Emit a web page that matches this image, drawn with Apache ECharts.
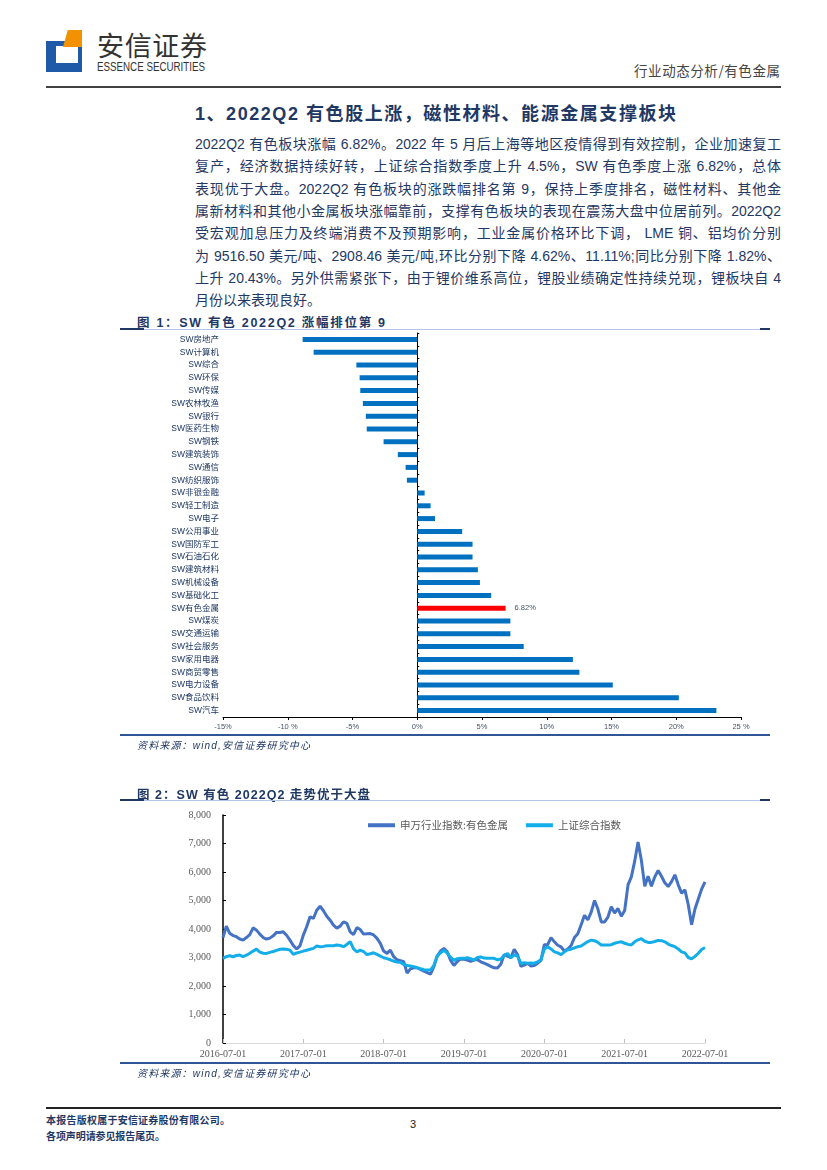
<!DOCTYPE html>
<html><head><meta charset="utf-8">
<script src="https://cdn.jsdelivr.net/npm/echarts@6/dist/echarts.min.js"></script>
<style>
html,body{margin:0;padding:0;background:#fff;}
#page{position:relative;width:827px;height:1170px;overflow:hidden;font-family:"Liberation Sans","Noto Sans CJK SC",sans-serif;}
.abs{position:absolute;white-space:nowrap;}
.para{position:absolute;left:195px;width:586px;font-size:14px;line-height:18px;color:#1F3864;text-align:justify;text-align-last:justify;white-space:nowrap;}
.cap{position:absolute;left:137px;font-size:12.5px;font-weight:bold;color:#1F3864;white-space:nowrap;}
.src{position:absolute;left:137px;font-size:10px;font-style:italic;color:#1F3864;white-space:nowrap;}
.hl{position:absolute;height:1px;background:#B4C6E7;}
</style>
</head><body>
<div id="page">
  <!-- logo -->
  <div class="abs" style="left:46px;top:41px;width:36px;height:31px;background:#1E5AA8;"></div>
  <div class="abs" style="left:56px;top:46px;width:22px;height:17px;background:#fff;"></div>
  <div class="abs" style="left:63px;top:30px;width:19px;height:17px;background:#F39200;clip-path:polygon(25% 0,100% 0,100% 100%,0 100%);"></div>
  <div id="hname" class="abs" style="left:97px;top:27px;font-size:27px;color:#333;font-family:'Noto Sans CJK SC';line-height:36px;">安信证券</div>
  <div id="hen" class="abs" style="left:97px;top:60px;font-size:12px;color:#333;font-family:'Liberation Sans';line-height:14px;transform-origin:0 0;">ESSENCE SECURITIES</div>
  <div id="hright" class="abs" style="left:634px;top:61px;font-size:13.5px;color:#444;font-family:'Noto Sans CJK SC';line-height:18px;">行业动态分析/有色金属</div>
  <div class="abs" style="left:46px;top:86px;width:735px;height:2px;background:#404040;"></div>

  <div id="sect" class="abs" style="left:195px;top:102px;font-size:18px;font-weight:bold;color:#1F3864;line-height:24px;">1、2022Q2 有色股上涨，磁性材料、能源金属支撑板块</div>

  <div class="para" style="top:135px;">2022Q2 有色板块涨幅 6.82%。2022 年 5 月后上海等地区疫情得到有效控制，企业加速复工</div>
  <div class="para" style="top:157.3px;">复产，经济数据持续好转，上证综合指数季度上升 4.5%，SW 有色季度上涨 6.82%，总体</div>
  <div class="para" style="top:179.6px;">表现优于大盘。2022Q2 有色板块的涨跌幅排名第 9，保持上季度排名，磁性材料、其他金</div>
  <div class="para" style="top:201.9px;">属新材料和其他小金属板块涨幅靠前，支撑有色板块的表现在震荡大盘中位居前列。2022Q2</div>
  <div class="para" style="top:224.2px;">受宏观加息压力及终端消费不及预期影响，工业金属价格环比下调， LME 铜、铝均价分别</div>
  <div class="para" style="top:246.5px;">为 9516.50 美元/吨、2908.46 美元/吨,环比分别下降 4.62%、11.11%;同比分别下降 1.82%、</div>
  <div class="para" style="top:268.8px;">上升 20.43%。另外供需紧张下，由于锂价维系高位，锂股业绩确定性持续兑现，锂板块自 4</div>
  <div class="para" style="top:291.1px;text-align-last:left;">月份以来表现良好。</div>

  <div id="cap1" class="cap" style="top:312px;">图 1：SW 有色 2022Q2 涨幅排位第 9</div>
  <div class="hl" style="left:120px;top:329px;width:650px;"></div>
  <div class="abs" style="left:120px;top:328px;width:24px;height:2px;background:#1F3864;"></div>
  <div class="abs" style="left:760px;top:328px;width:10px;height:2px;background:#1F3864;"></div>

  <div id="chart1" class="abs" style="left:0;top:300px;width:827px;height:450px;"></div>

  <div class="abs" style="left:120px;top:734px;width:650px;height:2px;background:#2F5597;"></div>
  <div id="src1" class="src" style="top:737px;">资料来源：wind,安信证券研究中心</div>

  <div id="cap2" class="cap" style="top:784px;">图 2：SW 有色 2022Q2 走势优于大盘</div>
  <div class="hl" style="left:120px;top:800px;width:650px;"></div>
  <div class="abs" style="left:120px;top:799px;width:24px;height:2px;background:#1F3864;"></div>
  <div class="abs" style="left:760px;top:799px;width:10px;height:2px;background:#1F3864;"></div>

  <div id="chart2" class="abs" style="left:0;top:805px;width:827px;height:270px;"></div>

  <div class="abs" style="left:120px;top:1062px;width:650px;height:2px;background:#2F5597;"></div>
  <div id="src2" class="src" style="top:1065px;">资料来源：wind,安信证券研究中心</div>

  <div class="abs" style="left:46px;top:1107px;width:735px;height:2px;background:#222;"></div>
  <div id="f1" class="abs" style="left:46px;top:1114px;font-size:10px;font-weight:bold;color:#1F3864;line-height:14px;">本报告版权属于安信证券股份有限公司。</div>
  <div id="f2" class="abs" style="left:46px;top:1130px;font-size:10px;font-weight:bold;color:#1F3864;line-height:14px;">各项声明请参见报告尾页。</div>
  <div class="abs" style="left:410px;top:1117px;font-size:11px;color:#222;line-height:14px;">3</div>
</div>
<script>
// ---------- Figure 1 data ----------
const barCategories = ['SW房地产','SW计算机','SW综合','SW环保','SW传媒','SW农林牧渔','SW银行','SW医药生物','SW钢铁','SW建筑装饰','SW通信','SW纺织服饰','SW非银金融','SW轻工制造','SW电子','SW公用事业','SW国防军工','SW石油石化','SW建筑材料','SW机械设备','SW基础化工','SW有色金属','SW煤炭','SW交通运输','SW社会服务','SW家用电器','SW商贸零售','SW电力设备','SW食品饮料','SW汽车'];
const barValues = [-8.85,-8.0,-4.7,-4.45,-4.4,-4.2,-3.97,-3.9,-2.6,-1.5,-0.9,-0.8,0.57,1.03,1.37,3.47,4.27,4.27,4.68,4.84,5.71,6.82,7.19,7.19,8.22,12.02,12.52,15.1,20.2,23.1];
const highlightCategory = 'SW有色金属';
const barTickLabels = ['-15%','-10 %','-5%','0%','5%','10%','15%','20%','25 %'];

// ---------- Figure 2 data (semi-monthly readings, 2016-07-01 .. 2022-07-01) ----------
const lineNames = ['申万行业指数:有色金属','上证综合指数'];
const swNonferrous = [
3700,4100,3850,3770,3730,3650,3610,3700,3800,4040,
3960,3820,3700,3645,3680,3760,3880,3880,3900,3780,
3610,3420,3300,3410,3785,4077,4427,4370,4660,4800,
4640,4450,4310,4135,4030,4100,4250,4200,3900,3800,
4050,3980,3820,3830,3840,3790,3670,3494,3225,3144,
3260,3027,2920,2890,2850,2450,2600,2640,2640,2580,
2520,2470,2420,2680,3050,3230,3320,3200,2900,2720,
2860,2950,2940,2910,2860,2910,2930,2850,2800,2750,
2690,2640,2630,2760,3100,3050,3000,3290,3100,2690,
2730,2800,2700,2720,2800,2900,3450,3450,3700,3550,
3430,3370,3230,3300,3420,3700,3830,4150,4480,4320,
4590,5000,4700,4250,4250,4420,4780,4560,4720,4450,
4650,5550,5830,6380,7050,6400,5500,5850,5500,5830,
6050,5850,5620,5490,5660,5900,5550,5260,5370,4850,
4150,4700,5050,5400,5650];
const shComposite = [
2970,3030,3062,3027,3070,3085,3030,3080,3150,3225,
3295,3190,3150,3144,3180,3210,3250,3290,3295,3290,
3260,3110,3160,3190,3225,3255,3290,3320,3400,3380,
3390,3410,3410,3412,3440,3420,3380,3460,3560,3300,
3200,3260,3210,3100,3130,3165,3110,3050,2990,2960,
2920,2870,2840,2829,2760,2720,2700,2680,2640,2610,
2570,2560,2560,2720,3050,3170,3250,3150,3010,2900,
2960,2970,2970,2990,2960,2910,3000,3020,2980,2970,
2970,2970,2920,2950,3080,3140,2990,3090,3050,2790,
2820,2800,2810,2800,2850,2920,3300,3380,3300,3200,
3160,3100,3200,3270,3290,3340,3380,3400,3480,3560,
3610,3590,3530,3440,3440,3440,3450,3500,3530,3550,
3500,3460,3440,3550,3620,3660,3570,3530,3530,3560,
3600,3590,3550,3470,3420,3380,3300,3200,3160,3000,
2950,3040,3150,3280,3350];
// category dates: 1st and 16th of each month
const lineDates = [];
for (let y = 2016; y <= 2022; y++) {
  for (let m = 1; m <= 12; m++) {
    const mm = (m < 10 ? '0' : '') + m;
    ['01','16'].forEach(d => {
      const s = y + '-' + mm + '-' + d;
      if (s >= '2016-07-01' && s <= '2022-07-01') lineDates.push(s);
    });
  }
}

const sansFont = '"Liberation Sans","Noto Sans CJK SC",sans-serif';
const serifFont = '"Liberation Serif","Noto Sans CJK SC",serif';

// ---------- Chart 1 ----------
const c1 = echarts.init(document.getElementById('chart1'), null, {renderer:'canvas'});
const barData = barValues.map((v, i) => barCategories[i] === highlightCategory
  ? {value: v, itemStyle: {color: '#FF0000'}, label: {show: true}}
  : v);
c1.setOption({
  animation: false,
  grid: {left: 223, right: 86, top: 33, bottom: 33, containLabel: false, outerBoundsMode: 'none'},
  xAxis: {
    type: 'value', min: -15, max: 25, interval: 5,
    axisLine: {show: true, lineStyle: {color: '#000', width: 1}},
    axisTick: {show: true, length: 3, lineStyle: {color: '#000'}},
    splitLine: {show: false},
    axisLabel: {margin: 6, fontSize: 7.5, color: '#44546A', fontFamily: sansFont,
      formatter: v => barTickLabels[Math.round((v + 15) / 5)]}
  },
  yAxis: {
    type: 'category', data: barCategories, inverse: true,
    axisLine: {show: true, onZero: true, lineStyle: {color: '#000', width: 1}},
    axisTick: {show: true, inside: true, length: 2, lineStyle: {color: '#000'}},
    axisLabel: {margin: 4, fontSize: 8.5, color: '#1F3864', fontFamily: sansFont}
  },
  series: [{
    type: 'bar', data: barData, barWidth: 5,
    itemStyle: {color: '#0070C0'},
    label: {show: false, position: 'right', distance: 9, fontSize: 7.5, color: '#44546A',
      fontFamily: sansFont, formatter: p => p.value.toFixed(2) + '%'}
  }]
});

// ---------- Chart 2 ----------
const c2 = echarts.init(document.getElementById('chart2'), null, {renderer:'canvas'});
const isYearTick = (idx, val) => /-07-01$/.test(val);
c2.setOption({
  animation: false,
  grid: {left: 223, right: 122, top: 10, bottom: 32, containLabel: false, outerBoundsMode: 'none'},
  legend: {
    left: 363, top: 10, itemWidth: 27, itemHeight: 4, itemGap: 18, icon: 'rect',
    textStyle: {fontSize: 10.5, color: '#595959', fontFamily: '"Noto Sans CJK SC"'},
    data: lineNames
  },
  xAxis: {
    type: 'category', data: lineDates, boundaryGap: false,
    axisLine: {show: true, lineStyle: {color: '#D9D9D9', width: 1}},
    axisTick: {show: true, inside: true, length: 4, interval: isYearTick, lineStyle: {color: '#BFBFBF'}},
    axisLabel: {interval: isYearTick, margin: 6, fontSize: 10, color: '#595959', fontFamily: serifFont}
  },
  yAxis: {
    type: 'value', min: 0, max: 8000, interval: 1000,
    axisLine: {show: true, lineStyle: {color: '#000', width: 1.5}},
    axisTick: {show: true, inside: true, length: 3, lineStyle: {color: '#000'}},
    splitLine: {show: false},
    axisLabel: {margin: 12, fontSize: 10, color: '#595959', fontFamily: serifFont,
      formatter: v => v.toLocaleString('en-US')}
  },
  series: [
    {name: lineNames[0], type: 'line', data: swNonferrous, showSymbol: false, symbol: 'none',
      lineStyle: {width: 3, color: '#4472C4'}, itemStyle: {color: '#4472C4'}},
    {name: lineNames[1], type: 'line', data: shComposite, showSymbol: false, symbol: 'none',
      lineStyle: {width: 3, color: '#13AEEA'}, itemStyle: {color: '#13AEEA'}}
  ]
});

// ---------- fit text widths to reference ----------
function fit(id, w) {
  const el = document.getElementById(id);
  el.style.letterSpacing = '0px';
  const nat = el.getBoundingClientRect().width;
  const n = el.textContent.length;
  el.style.letterSpacing = ((w - nat) / (n - 1)) + 'px';
}
function fitScale(id, w) {
  const el = document.getElementById(id);
  const nat = el.getBoundingClientRect().width;
  el.style.transform = 'scaleX(' + (w / nat) + ')';
}
fit('hname', 110); fitScale('hen', 108); fit('hright', 146);
fit('sect', 481); fit('cap1', 248); fit('cap2', 233);
fit('src1', 173); fit('src2', 173); fit('f1', 184); fit('f2', 119);
</script>
</body></html>
